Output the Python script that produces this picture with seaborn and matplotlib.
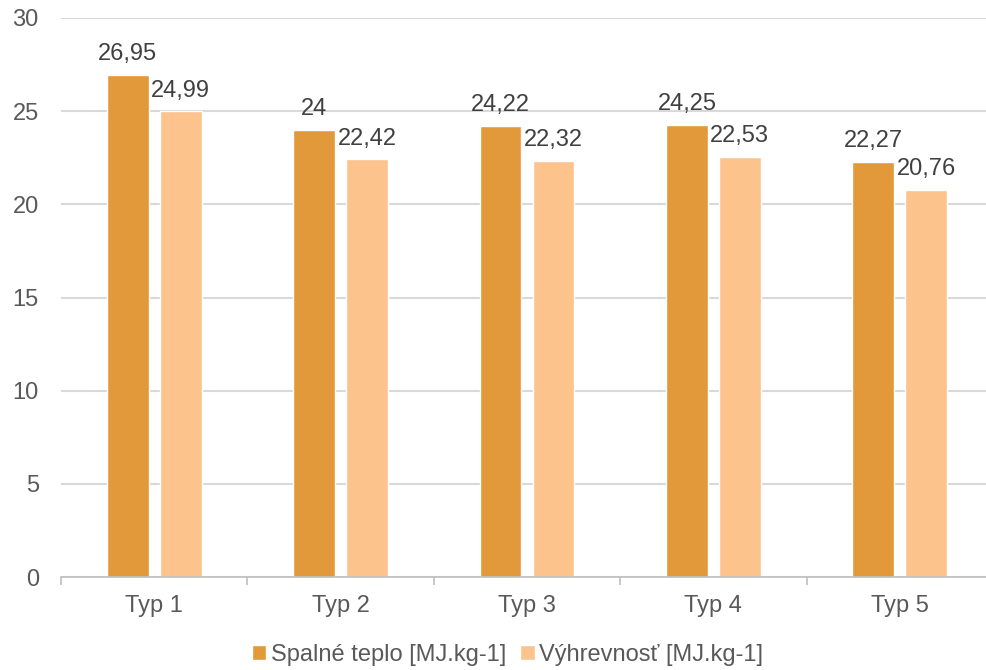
import pandas as pd
import matplotlib
matplotlib.use('Agg')
import matplotlib.pyplot as plt
import seaborn as sns

# data
types = ['Typ 1', 'Typ 2', 'Typ 3', 'Typ 4', 'Typ 5']
spalne_teplo = [26.95, 24, 24.22, 24.25, 22.27]
vyhrevnost = [24.99, 22.42, 22.32, 22.53, 20.76]
series_names = ['Spalné teplo [MJ.kg-1]', 'Výhrevnosť [MJ.kg-1]']
colors = ['#E2993A', '#FDC38D']

df = pd.DataFrame({
    'typ': types * 2,
    'value': spalne_teplo + vyhrevnost,
    'series': [series_names[0]] * len(types) + [series_names[1]] * len(types),
})

sns.set_style('white')
plt.rcParams['font.family'] = ['Liberation Sans', 'DejaVu Sans']
label_color = '#404040'
tick_color = '#595959'

fig = plt.figure(figsize=(9.86, 6.70), dpi=100)
ax = fig.add_axes([61 / 986, 93 / 670, 932 / 986, 559 / 670])

sns.barplot(data=df, x='typ', y='value', hue='series', palette=colors,
            width=0.568, gap=0.21, ax=ax, legend=True, saturation=1)

# data labels with decimal comma
for container in ax.containers:
    labels = [f'{b.get_height():g}'.replace('.', ',') for b in container]
    ax.bar_label(container, labels=labels, padding=7, fontsize=17, color=label_color)

ax.set_ylim(0, 30)
ax.set_xlim(-0.5, 4.5)
ax.set_yticks(range(0, 31, 5))
ax.yaxis.grid(True, color='#D9D9D9', linewidth=1.5)
ax.set_axisbelow(True)
for side in ['left', 'right', 'top']:
    ax.spines[side].set_visible(False)
ax.spines['bottom'].set_color('#BFBFBF')
ax.spines['bottom'].set_linewidth(1.2)

# category boundaries as tick marks
ax.set_xticks([i - 0.5 for i in range(len(types) + 1)], minor=True)
ax.tick_params(axis='x', which='minor', length=6, color='#BFBFBF', width=1.2, bottom=True)
ax.tick_params(axis='x', which='major', length=0, pad=13, labelsize=17, labelcolor=tick_color)
ax.tick_params(axis='y', length=0, pad=16, labelsize=17, labelcolor=tick_color)
ax.set_xlabel('')
ax.set_ylabel('')

handles, labels = ax.get_legend_handles_labels()
ax.get_legend().remove()
fig.legend(handles, labels, loc='center', bbox_to_anchor=(0.515, 15 / 670), ncol=2,
           frameon=False, fontsize=17, labelcolor=tick_color,
           handlelength=0.6, handleheight=0.6, handletextpad=0.2, columnspacing=0.6)

fig.savefig('out.png', dpi=100)
